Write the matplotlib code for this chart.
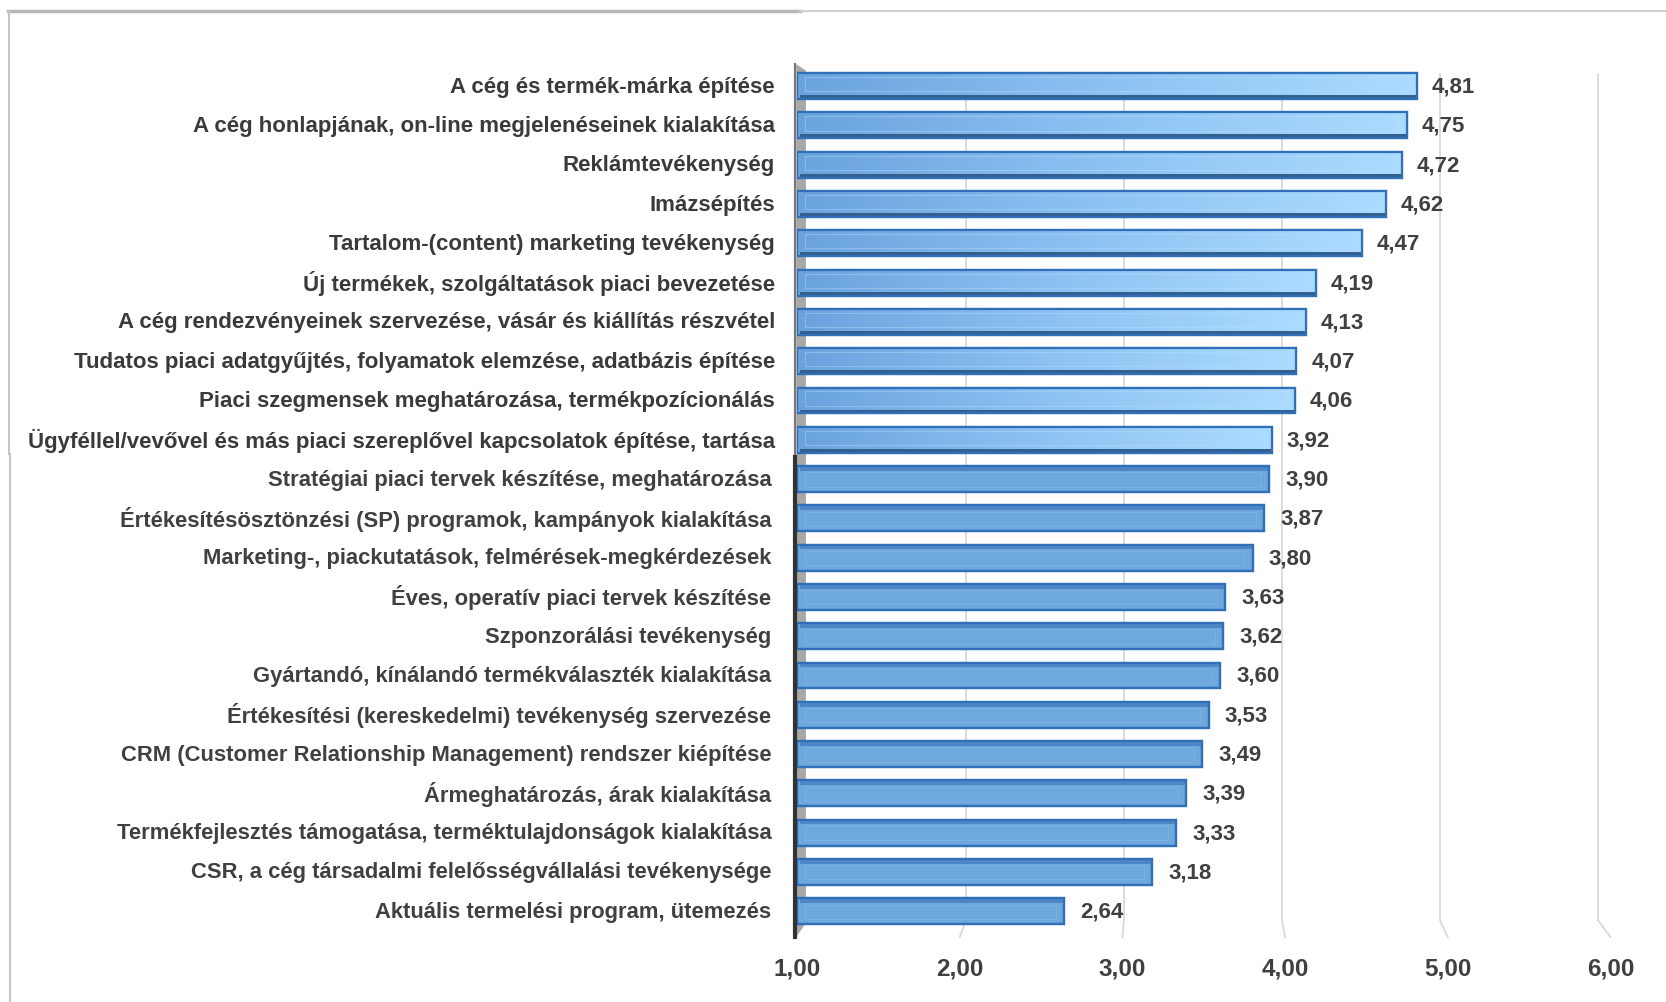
import matplotlib
matplotlib.use("Agg")
import matplotlib.pyplot as plt
import numpy as np
from matplotlib.colors import LinearSegmentedColormap
from matplotlib.patches import Rectangle, Polygon
from matplotlib.lines import Line2D

categories = [
    "A cég és termék-márka építése",
    "A cég honlapjának, on-line megjelenéseinek kialakítása",
    "Reklámtevékenység",
    "Imázsépítés",
    "Tartalom-(content) marketing tevékenység",
    "Új termékek, szolgáltatások piaci bevezetése",
    "A cég rendezvényeinek szervezése, vásár és kiállítás részvétel",
    "Tudatos piaci adatgyűjtés, folyamatok elemzése, adatbázis építése",
    "Piaci szegmensek meghatározása, termékpozícionálás",
    "Ügyféllel/vevővel és más piaci szereplővel kapcsolatok építése, tartása",
    "Stratégiai piaci tervek készítése, meghatározása",
    "Értékesítésösztönzési (SP) programok, kampányok kialakítása",
    "Marketing-, piackutatások, felmérések-megkérdezések",
    "Éves, operatív piaci tervek készítése",
    "Szponzorálási tevékenység",
    "Gyártandó, kínálandó termékválaszték kialakítása",
    "Értékesítési (kereskedelmi) tevékenység szervezése",
    "CRM (Customer Relationship Management) rendszer kiépítése",
    "Ármeghatározás, árak kialakítása",
    "Termékfejlesztés támogatása, terméktulajdonságok kialakítása",
    "CSR, a cég társadalmi felelősségvállalási tevékenysége",
    "Aktuális termelési program, ütemezés",
]
values = [4.81, 4.75, 4.72, 4.62, 4.47, 4.19, 4.13, 4.07, 4.06, 3.92, 3.90,
          3.87, 3.80, 3.63, 3.62, 3.60, 3.53, 3.49, 3.39, 3.33, 3.18, 2.64]
x_ticks = [1, 2, 3, 4, 5, 6]
x_tick_labels = ["1,00", "2,00", "3,00", "4,00", "5,00", "6,00"]
axis_start = 1.0
n_upper = 10  # first rows come from the gradient-styled block

TEXT = "#404040"
font = ["Liberation Sans", "DejaVu Sans"]

fig = plt.figure(figsize=(16.66, 10.03), dpi=100)
ax = fig.add_axes([797 / 1666, 1 - 935.8 / 1003, (1610.5 - 797) / 1666, (935.8 - 63.6) / 1003])
ax.set_xlim(1, 6)
ax.set_ylim(21.6, -0.6)
ax.axis("off")

# outer frame
fig.add_artist(Line2D([8 / 1666, 800 / 1666], [1 - 12 / 1003] * 2, color="#b8b8b8", lw=2.5))
fig.add_artist(Line2D([800 / 1666, 1.0], [1 - 12 / 1003] * 2, color="#cfcfcf", lw=1.5))
fig.add_artist(Line2D([9 / 1666] * 2, [1 - 12 / 1003, 1 - 455 / 1003], color="#c4c4c4", lw=1.5))
fig.add_artist(Line2D([10 / 1666] * 2, [1 - 455 / 1003, 0.0], color="#c4c4c4", lw=1.5))

# perspective gridlines (back wall) with short feet towards the front scale
for g in x_ticks[1:]:
    gb = 1.0676 + 0.9711 * (g - 1)
    ax.plot([gb, gb, g], [-0.305, 21.23, 21.66], color="#d9d9d9", lw=1.3,
            zorder=1, clip_on=False, solid_joinstyle="miter")

# side wall and axis line
wall = Polygon([[0.995, -0.56], [1.055, -0.40], [1.055, 21.3], [0.995, 21.66]],
               closed=True, facecolor="#a8a8a8", edgecolor="none", zorder=2, clip_on=False)
ax.add_patch(wall)
ax.plot([0.985, 0.985], [-0.56, 9.44], color="#7a7a7a", lw=1.6, zorder=5, clip_on=False)
ax.plot([0.985, 0.985], [9.44, 21.66], color="#333333", lw=3.0, zorder=5, clip_on=False)

ypos = np.arange(len(values))
h = 0.66
widths = [v - axis_start for v in values]
grad_cmap = LinearSegmentedColormap.from_list("bargrad", ["#6aa2de", "#8cc2f2", "#abdcff"])
grad = np.linspace(0, 1, 256).reshape(1, -1)

bars = ax.barh(ypos, widths, left=axis_start, height=h, color="#6fa8dc",
               edgecolor="#2f70b8", linewidth=1.6, zorder=3)

for i, (b, v) in enumerate(zip(bars, values)):
    y0 = ypos[i] - h / 2
    if i < n_upper:
        im = ax.imshow(grad, extent=(axis_start, v, ypos[i] + h / 2, y0), cmap=grad_cmap,
                       aspect="auto", zorder=3.1, interpolation="bicubic")
        im.set_clip_path(b)
        # dark underside
        ax.add_patch(Rectangle((axis_start + 0.02, ypos[i] + h / 2 - 0.1), v - axis_start - 0.02, 0.1,
                               facecolor="#34608f", edgecolor="none", zorder=3.2))
        ax.add_patch(Rectangle((axis_start + 0.05, y0 + 0.1), v - axis_start - 0.1, h - 0.3,
                               facecolor="none", edgecolor="#b9e0ff", lw=0.8, alpha=0.4, zorder=3.25))
    else:
        # darker top face
        ax.add_patch(Rectangle((axis_start + 0.02, y0 + 0.02), v - axis_start - 0.02, 0.1,
                               facecolor="#4d86c6", edgecolor="none", zorder=3.2))
        ax.add_patch(Rectangle((axis_start + 0.05, y0 + 0.16), v - axis_start - 0.1, h - 0.3,
                               facecolor="none", edgecolor="#8ebfea", lw=0.8, alpha=0.4, zorder=3.25))
    ax.add_patch(Rectangle((axis_start, y0), v - axis_start, h, facecolor="none",
                           edgecolor="#2f70b8", lw=1.6, zorder=3.3))

    label = f"{v:.2f}".replace(".", ",")
    if i < n_upper:
        ax.text(0.865, ypos[i], categories[i], ha="right", va="center", fontsize=16,
                family=font, fontweight="bold", color="#3a3a3a", clip_on=False)
        ax.text(v + 0.09, ypos[i], label, ha="left", va="center",
                fontsize=16, family=font, fontweight="bold", color=TEXT, clip_on=False)
    else:
        ax.text(0.843, ypos[i], categories[i], ha="right", va="center", fontsize=15.8,
                family=font, fontweight="bold", color=TEXT, clip_on=False)
        ax.text(v + 0.1, ypos[i], label, ha="left", va="center",
                fontsize=16, family=font, fontweight="bold", color=TEXT, clip_on=False)

ax.set_xlim(1, 6)
ax.set_ylim(21.6, -0.6)

for t, lab in zip(x_ticks, x_tick_labels):
    ax.text(t, 22.45, lab, ha="center", va="center", fontsize=17.5, family=font,
            fontweight="bold", color=TEXT, clip_on=False)

fig.savefig("out.png", dpi=100, facecolor="white")
